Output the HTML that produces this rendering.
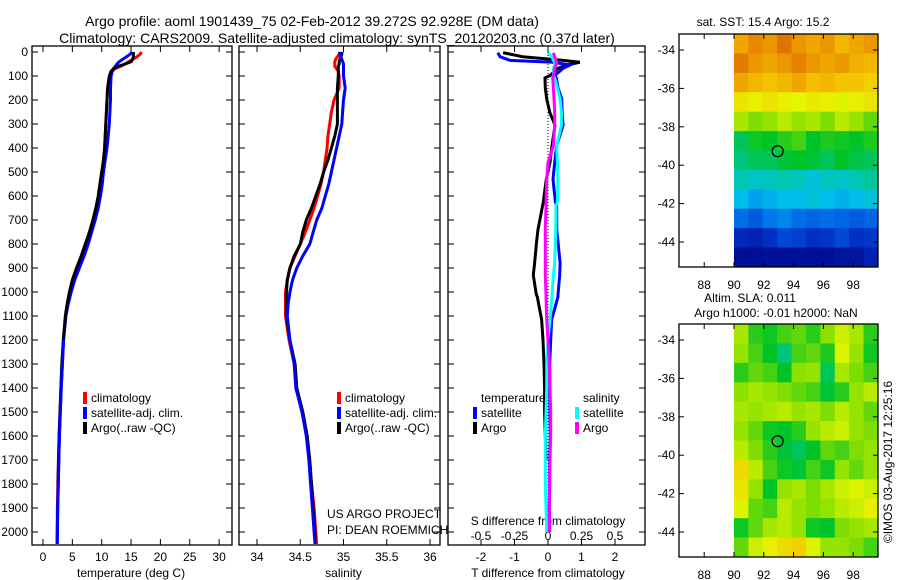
<!DOCTYPE html>
<html><head><meta charset="utf-8"><style>
html,body{margin:0;padding:0;background:#fff;}
svg{display:block;font-family:"Liberation Sans",sans-serif;}
</style></head><body>
<svg id="c" width="900" height="580" viewBox="0 0 900 580" xmlns="http://www.w3.org/2000/svg">
<text x="312" y="26" font-size="14" text-anchor="middle">Argo profile: aoml 1901439_75 02-Feb-2012 39.272S 92.928E (DM data)</text>
<text x="337" y="43" font-size="14" text-anchor="middle">Climatology: CARS2009. Satellite-adjusted climatology: synTS_20120203.nc (0.37d later)</text>
<text x="763" y="26" font-size="12" text-anchor="middle">sat. SST: 15.4 Argo: 15.2</text>
<text x="750" y="302" font-size="12" text-anchor="middle">Altim. SLA: 0.011</text>
<text x="776" y="317" font-size="12" text-anchor="middle">Argo h1000: -0.01 h2000: NaN</text>
<text transform="translate(892,462) rotate(-90)" font-size="12" text-anchor="middle">©IMOS 03-Aug-2017 12:25:16</text>
<text x="327" y="518" font-size="12">US ARGO PROJECT</text>
<text x="327" y="534" font-size="12">PI: DEAN ROEMMICH</text>
<g id="g"></g>
</svg>
<script>
// ---- data ----
const depths=[0,10,20,30,40,50,60,70,80,100,150,200,250,300,350,400,450,500,550,600,650,700,750,800,850,900,950,1000,1050,1100,1200,1300,1400,1500,1600,1700,1800,1900,2000,2050];
const tempClim=[16.8,16.5,16,15.3,14.6,14,13.2,12.2,11.8,11.4,11.0,10.9,10.8,10.7,10.6,10.5,10.3,10.1,9.9,9.6,9.2,8.7,8.1,7.5,6.8,6.0,5.2,4.6,4.2,3.9,3.5,3.25,3.05,2.9,2.75,2.62,2.52,2.45,2.4,2.38];
const tempSat=[15.2,14.8,14.2,13.6,13.0,12.6,12.3,12.0,11.8,11.6,11.5,11.5,11.4,11.3,11.1,10.9,10.6,10.3,10.1,9.8,9.4,8.9,8.3,7.7,7.0,6.2,5.4,4.8,4.3,3.9,3.5,3.3,3.1,2.95,2.8,2.7,2.6,2.5,2.45,2.42];
const tempArgo=[15.4,15.4,15.4,15.3,15.0,14.0,12.8,12.0,11.6,11.3,11.0,10.9,10.8,10.7,10.6,10.5,10.3,10.0,9.7,9.4,9.0,8.5,7.9,7.2,6.5,5.7,5.0,4.5,4.1,3.8,3.45,3.2,3.05,2.9,2.75,2.65,2.55,2.48,2.44,2.42];
const salClim=[34.96,34.95,34.93,34.91,34.90,34.90,34.90,34.92,34.94,34.95,34.95,34.89,34.86,34.84,34.82,34.81,34.79,34.77,34.74,34.70,34.66,34.61,34.56,34.50,34.44,34.38,34.35,34.33,34.33,34.33,34.37,34.43,34.45,34.52,34.58,34.60,34.63,34.66,34.68,34.69];
const salSat=[34.95,34.96,34.97,34.98,34.99,35.0,35.0,35.0,35.0,35.0,35.02,35.0,34.99,34.98,34.95,34.92,34.89,34.86,34.83,34.79,34.75,34.69,34.65,34.61,34.53,34.46,34.41,34.38,34.36,34.35,34.38,34.43,34.45,34.52,34.57,34.60,34.62,34.64,34.66,34.67];
const salArgo=[34.98,34.98,34.97,34.96,34.95,34.95,34.94,34.94,34.94,34.94,34.93,34.93,34.93,34.93,34.90,34.86,34.82,34.77,34.73,34.68,34.63,34.57,34.53,34.50,34.43,34.38,34.35,34.34,34.34,34.34,34.38,34.44,34.46,34.53,34.58,34.61,34.63,34.65,34.67,34.67];
const dDepths=[3,20,35,43,54,68,98,108,150,195,250,305,390,460,530,625,640,740,790,880,930,1010,1020,1115,1200,1300,1400,1500,1600,1700,1800,1900,2000];
const dTempSat=[-1.5,-1.43,-1.13,0.15,0.66,0.45,0.2,0.25,0.3,0.41,0.42,0.45,0.26,0.2,0.15,0.22,0.26,0.26,0.3,0.36,0.35,0.3,0.3,0.11,0.08,0.05,0.05,0.06,0.07,0.05,0.05,0.04,0.05];
const dTempArgo=[-1.34,-0.75,0.45,0.95,0.56,0.3,0.06,-0.09,-0.08,-0.04,0.05,0.21,0.12,0.06,-0.05,-0.14,-0.16,-0.3,-0.34,-0.4,-0.44,-0.35,-0.32,-0.19,-0.15,-0.12,-0.1,-0.1,-0.08,-0.06,-0.05,-0.04,-0.04];
const dSalSat=[0.0,0.03,0.04,0.05,0.05,0.04,0.04,0.05,0.07,0.09,0.1,0.1,0.065,0.07,0.075,0.07,0.06,0.058,0.055,0.05,0.04,0.03,0.03,0.015,0.0,-0.01,-0.01,-0.015,-0.02,-0.02,-0.02,-0.015,-0.01];
const dSalArgo=[0.04,0.05,0.06,0.065,0.06,0.05,0.04,0.035,0.04,0.045,0.05,0.05,0.04,0.0,-0.01,-0.015,-0.015,-0.02,-0.02,-0.02,-0.02,-0.015,-0.015,-0.01,0.0,0.01,0.015,0.02,0.02,0.015,0.01,0.01,0.01];
const tempTicks=[0,5,10,15,20,25,30];
const salTicks=[34,34.5,35,35.5,36];
const tdTicks=[-2,-1,0,1,2];
const sdTicks=[-0.5,-0.25,0,0.25,0.5];
const sdTickLabels=["-0.5","-0.25","0","0.25","0.5"];
const depthTicks=[0,100,200,300,400,500,600,700,800,900,1000,1100,1200,1300,1400,1500,1600,1700,1800,1900,2000];
const lonTicks=[88,90,92,94,96,98];
const latTicks=[-34,-36,-38,-40,-42,-44];
const floatLon=92.928, floatLat=-39.272;
const sstGrid=[
[0.88,0.92,0.9,0.95,0.9,0.88,0.9,0.86,0.88,0.9],
[0.94,0.9,0.88,0.9,0.93,0.9,0.88,0.9,0.87,0.86],
[0.88,0.86,0.84,0.86,0.88,0.85,0.86,0.84,0.84,0.82],
[0.78,0.76,0.78,0.76,0.75,0.77,0.76,0.74,0.76,0.78],
[0.68,0.64,0.66,0.7,0.66,0.68,0.64,0.7,0.66,0.62],
[0.52,0.56,0.55,0.58,0.6,0.55,0.57,0.56,0.55,0.57],
[0.5,0.52,0.52,0.54,0.55,0.54,0.52,0.55,0.53,0.52],
[0.46,0.44,0.45,0.47,0.45,0.42,0.45,0.44,0.46,0.48],
[0.4,0.36,0.38,0.4,0.4,0.42,0.4,0.38,0.4,0.42],
[0.28,0.24,0.3,0.32,0.28,0.26,0.28,0.26,0.24,0.26],
[0.12,0.1,0.14,0.2,0.18,0.14,0.16,0.2,0.14,0.16],
[0.04,0.04,0.05,0.04,0.05,0.04,0.04,0.06,0.06,0.1]];
const slaGrid=[
[0.68,0.58,0.56,0.6,0.62,0.58,0.65,0.72,0.68,0.58],
[0.66,0.6,0.55,0.5,0.6,0.62,0.57,0.74,0.66,0.56],
[0.58,0.62,0.6,0.55,0.65,0.66,0.52,0.68,0.64,0.6],
[0.65,0.68,0.66,0.64,0.62,0.6,0.54,0.58,0.66,0.7],
[0.68,0.66,0.68,0.7,0.66,0.68,0.64,0.7,0.66,0.62],
[0.66,0.62,0.56,0.55,0.58,0.66,0.7,0.72,0.66,0.64],
[0.7,0.64,0.58,0.54,0.52,0.55,0.62,0.6,0.64,0.66],
[0.8,0.7,0.6,0.56,0.54,0.6,0.56,0.66,0.62,0.66],
[0.78,0.66,0.55,0.66,0.68,0.64,0.68,0.72,0.74,0.72],
[0.74,0.62,0.6,0.7,0.66,0.64,0.66,0.7,0.72,0.76],
[0.56,0.62,0.68,0.7,0.66,0.56,0.55,0.64,0.66,0.68],
[0.62,0.72,0.76,0.8,0.82,0.74,0.66,0.66,0.64,0.6]];
const mapLon0=90, mapLon1=99.66, mapLat0=-33.17, mapLat1=-45.3;

// ---- helpers ----
const NS="http://www.w3.org/2000/svg";
const G=document.getElementById('g');
function mk(tag,attrs,parent){const e=document.createElementNS(NS,tag);for(const k in attrs)e.setAttribute(k,attrs[k]);(parent||G).appendChild(e);return e;}
const yD=d=>52+d*0.24;
const xT=t=>43+t*5.87;
const xS=s=>257+(s-34)*86.5;
const xTd=t=>548+t*33.5;
const xSd=s=>548+s*134;

function panel(name,x0,x1,xticks,xfn,labels,xlabel){
  const r=mk('rect',{x:x0,y:46,width:x1-x0,height:499,fill:'none',stroke:'#000','stroke-width':1.3});
  
  
  depthTicks.forEach(d=>{
    mk('line',{x1:x0,x2:x0+6,y1:yD(d),y2:yD(d),stroke:'#000'});
    mk('line',{x1:x1,x2:x1-6,y1:yD(d),y2:yD(d),stroke:'#000'});
  });
  xticks.forEach((v,i)=>{
    const x=xfn(v);
    mk('line',{x1:x,x2:x,y1:545,y2:539,stroke:'#000'});
    mk('line',{x1:x,x2:x,y1:46,y2:52,stroke:'#000'});
    const t=mk('text',{x:x,y:561,'font-size':12,'text-anchor':'middle'});
    t.textContent=labels[i];
    
    
  });
  const xl=mk('text',{x:(xfn(xticks[0])+xfn(xticks[xticks.length-1]))/2,y:577,'font-size':12,'text-anchor':'middle'});
  xl.textContent=xlabel;
  
  
}
function line(xs,ds,xfn,color,name,w){
  const p=mk('polyline',{points:xs.map((v,i)=>xfn(v).toFixed(1)+','+yD(ds[i]).toFixed(1)).join(' '),fill:'none',stroke:color,'stroke-width':w||3,'stroke-linejoin':'miter'});
  
  
}
function legend(x,y,color,txt,name){
  mk('rect',{x:x,y:y-10,width:4,height:12,fill:color});
  const t=mk('text',{x:x+8,y:y,'font-size':12});t.textContent=txt;
  
  
}

// depth labels
depthTicks.forEach(d=>{const t=mk('text',{x:28,y:yD(d)+4,'font-size':12,'text-anchor':'end'});t.textContent=d;
  
  });

panel('temperature-panel',32,232,tempTicks,xT,tempTicks.map(String),'temperature (deg C)');
line(tempClim,depths,xT,'#f00','temp-climatology-line');
line(tempSat,depths,xT,'#00f','temp-satellite-line');
line(tempArgo.slice(0,37),depths.slice(0,37),xT,'#000','temp-argo-line');
line(tempSat.slice(30),depths.slice(30),xT,'#00f','temp-satellite-deep-line');
legend(83,402,'#f00','climatology','legend-climatology');
legend(83,417,'#00f','satellite-adj. clim.','legend-satellite');
legend(83,432,'#000','Argo(..raw -QC)','legend-argo');

panel('salinity-panel',239,440,salTicks,xS,salTicks.map(String),'salinity');
line(salClim,depths,xS,'#f00','sal-climatology-line');
line(salArgo,depths,xS,'#000','sal-argo-line');
line(salSat,depths,xS,'#00f','sal-satellite-line');
legend(337,402,'#f00','climatology','legend-climatology-2');
legend(337,417,'#00f','satellite-adj. clim.','legend-satellite-2');
legend(337,432,'#000','Argo(..raw -QC)','legend-argo-2');

panel('difference-panel',448,645,tdTicks,xTd,tdTicks.map(String),'T difference from climatology');
sdTicks.forEach((v,i)=>{const t=mk('text',{x:xSd(v),y:540,'font-size':12,'text-anchor':'middle'});t.textContent=sdTickLabels[i];
  
  });
{const t=mk('text',{x:548,y:525,'font-size':12,'text-anchor':'middle'});t.textContent='S difference from climatology';
  
  }
mk('line',{x1:548,x2:548,y1:52,y2:532,stroke:'#000','stroke-dasharray':'1,2','stroke-width':1});
line(dTempArgo.slice(0,30),dDepths.slice(0,30),xTd,'#000','tdiff-argo-line');
line(dTempSat,dDepths,xTd,'#00f','tdiff-satellite-line');
line(dSalSat,dDepths,xSd,'#0ff','sdiff-satellite-line');
line(dSalArgo,dDepths,xSd,'#f0f','sdiff-argo-line');
{const t=mk('text',{x:481,y:402,'font-size':12});t.textContent='temperature';}
{const t=mk('text',{x:583,y:402,'font-size':12});t.textContent='salinity';}
legend(473,417,'#00f','satellite','legend-tdiff-satellite');
legend(473,432,'#000','Argo','legend-tdiff-argo');
legend(575,417,'#0ff','satellite','legend-sdiff-satellite');
legend(575,432,'#f0f','Argo','legend-sdiff-argo');

// colormap
const stops=[[0,[0,0,130]],[0.15,[0,50,200]],[0.3,[0,120,235]],[0.4,[0,190,235]],[0.47,[0,200,170]],[0.55,[0,195,40]],[0.65,[140,225,0]],[0.75,[230,245,0]],[0.85,[245,190,0]],[0.95,[225,115,0]],[1,[210,90,0]]];
function cmap(v){for(let i=1;i<stops.length;i++){if(v<=stops[i][0]){const a=stops[i-1],b=stops[i],f=(v-a[0])/(b[0]-a[0]);return 'rgb('+a[1].map((c,k)=>Math.round(c+(b[1][k]-c)*f)).join(',')+')';}}return 'rgb(210,90,0)';}

function map(name,top,grid){
  const xL=l=>734+(l-90)*14.9;
  const yL=l=>top+16+(-34-l)*19.2;
  const rows=grid.length,cols=grid[0].length;
  const dLat=(mapLat0-mapLat1)/rows,dLon=(mapLon1-mapLon0)/cols;
  grid.forEach((row,r)=>row.forEach((v,c)=>{
    const x=xL(mapLon0+c*dLon),y=yL(mapLat0-r*dLat);
    const cell=mk('rect',{x:x,y:y,width:xL(mapLon0+(c+1)*dLon)-x+0.5,height:yL(mapLat0-(r+1)*dLat)-y+0.5,fill:cmap(v)});
    
    
  }));
  const fr=mk('rect',{x:679,y:top,width:199,height:233,fill:'none',stroke:'#000','stroke-width':1.3});
  
  
  lonTicks.forEach(l=>{const x=xL(l);
    mk('line',{x1:x,x2:x,y1:top+233,y2:top+228,stroke:'#000'});
    mk('line',{x1:x,x2:x,y1:top,y2:top+5,stroke:'#000'});
    const t=mk('text',{x:x,y:top+255,'font-size':12,'text-anchor':'middle'});t.textContent=l;
    
    });
  latTicks.forEach(l=>{const y=yL(l);
    mk('line',{x1:679,x2:684,y1:y,y2:y,stroke:'#000'});
    mk('line',{x1:878,x2:873,y1:y,y2:y,stroke:'#000'});
    const t=mk('text',{x:675,y:y+4,'font-size':12,'text-anchor':'end'});t.textContent=l;
    
    });
  const c=mk('circle',{cx:xL(floatLon),cy:yL(floatLat),r:5.5,fill:'none',stroke:'#000','stroke-width':1.2});
  
  
}
map('sst-map',34,sstGrid);
map('sla-map',324,slaGrid);
</script>
</body></html>
